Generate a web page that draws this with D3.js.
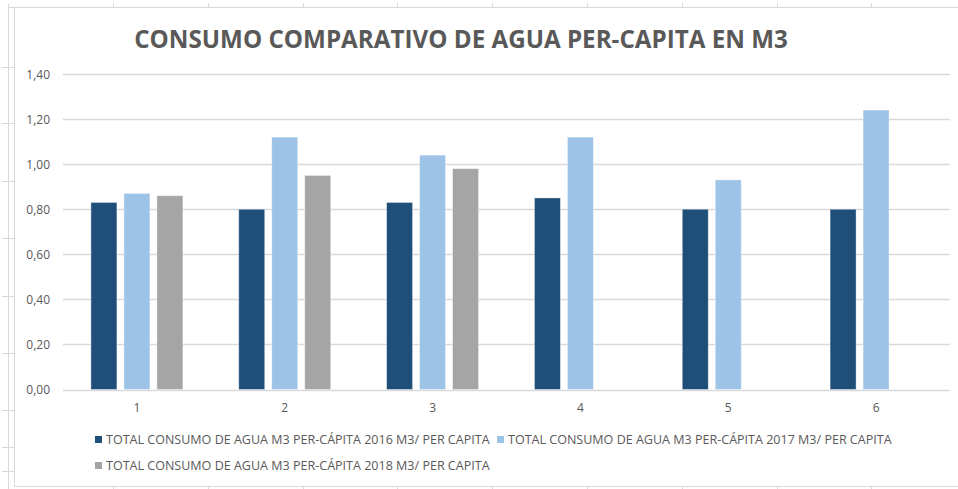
<!DOCTYPE html>
<html>
<head>
<meta charset="utf-8">
<script src="https://cdn.jsdelivr.net/npm/d3@7"></script>
<style>
  body { margin: 0; background: #fff; }
  svg { display: block; }
  text { font-family: "Open Sans", "Liberation Sans", sans-serif; fill: #595959; }
</style>
</head>
<body>
<div id="container"></div>
<script>
const title = "CONSUMO COMPARATIVO DE AGUA PER-CAPITA EN M3"
const categories = ["1", "2", "3", "4", "5", "6"]
const seriesNames = [
    "TOTAL CONSUMO DE AGUA M3 PER-CÁPITA 2016 M3/ PER CAPITA",
    "TOTAL CONSUMO DE AGUA M3 PER-CÁPITA 2017 M3/ PER CAPITA",
    "TOTAL CONSUMO DE AGUA M3 PER-CÁPITA 2018 M3/ PER CAPITA"
]
const values2016 = [0.83, 0.80, 0.83, 0.85, 0.80, 0.80]
const values2017 = [0.87, 1.12, 1.04, 1.12, 0.93, 1.24]
const values2018 = [0.86, 0.95, 0.98, null, null, null]
const yTicks = [0, 0.2, 0.4, 0.6, 0.8, 1.0, 1.2, 1.4]
const colors = ["#1F4E79", "#9DC3E6", "#A5A5A5"]

const width = 958
const height = 489
const series = [values2016, values2017, values2018]

const svg = d3.select("#container").append("svg")
    .attr("width", width)
    .attr("height", height)

// spreadsheet frame behind the chart
const frame = svg.append("g").attr("stroke", "#D9D9D9").attr("fill", "none")
frame.append("line").attr("x1", 8).attr("x2", 958).attr("y1", 7.5).attr("y2", 7.5)
frame.append("line").attr("x1", 8.5).attr("x2", 8.5).attr("y1", 4).attr("y2", 489)
frame.append("line").attr("x1", 14.5).attr("x2", 14.5).attr("y1", 8).attr("y2", 487)
frame.append("line").attr("x1", 14).attr("x2", 958).attr("y1", 486.5).attr("y2", 486.5)
d3.range(113, 958, 94.8).forEach(x => {
    frame.append("line").attr("x1", Math.round(x) + 0.5).attr("x2", Math.round(x) + 0.5).attr("y1", 3).attr("y2", 7)
    frame.append("line").attr("x1", Math.round(x) + 0.5).attr("x2", Math.round(x) + 0.5).attr("y1", 487).attr("y2", 489)
})
;[67, 123, 181, 238, 296, 353, 410, 447, 471].forEach(y => {
    frame.append("line").attr("x1", 2).attr("x2", 14).attr("y1", y + 0.5).attr("y2", y + 0.5)
})

const x0 = d3.scaleBand()
    .domain(categories)
    .range([63, 950])

const groupW = 92
const x1 = d3.scaleBand()
    .domain(d3.range(series.length))
    .range([0, groupW])
    .paddingInner(7 / 33)

const y = d3.scaleLinear()
    .domain([0, 1.4])
    .range([389.5, 74])

// gridlines
svg.append("g")
    .selectAll("line")
    .data(yTicks)
    .enter().append("line")
    .attr("x1", 63)
    .attr("x2", 950)
    .attr("y1", d => Math.round(y(d)) + 0.5)
    .attr("y2", d => Math.round(y(d)) + 0.5)
    .attr("stroke", "#D9D9D9")
    .attr("stroke-width", 1.3)

svg.append("g")
    .selectAll("text")
    .data(yTicks)
    .enter().append("text")
    .attr("x", 50)
    .attr("y", d => y(d) + 4.5)
    .attr("text-anchor", "end")
    .style("font-size", "12px")
    .text(d => d3.format(".2f")(d).replace(".", ","))

// bars
const group = svg.append("g")
    .selectAll("g")
    .data(categories)
    .enter().append("g")
    .attr("transform", d => `translate(${x0(d) + (x0.bandwidth() - groupW) / 2},0)`)

group.selectAll("rect")
    .data((d, i) => series.map((s, k) => ({ k, v: s[i] })).filter(e => e.v != null))
    .enter().append("rect")
    .attr("x", d => x1(d.k))
    .attr("width", x1.bandwidth())
    .attr("y", d => y(d.v))
    .attr("height", d => y(0) - y(d.v))
    .attr("fill", d => colors[d.k])
    .attr("stroke", "#fff")
    .attr("stroke-opacity", 0.5)
    .attr("stroke-width", 0.8)

svg.append("g")
    .selectAll("text")
    .data(categories)
    .enter().append("text")
    .attr("x", d => x0(d) + x0.bandwidth() / 2)
    .attr("y", 412)
    .attr("text-anchor", "middle")
    .style("font-size", "12px")
    .text(d => d)

// title, scaled to the reference width
const titleText = svg.append("text")
    .attr("x", 461)
    .attr("y", 48)
    .attr("text-anchor", "middle")
    .style("font-size", "22px")
    .style("font-weight", "700")
    .text(title)
const tw = titleText.node().getComputedTextLength()
titleText.style("font-size", (22 * 654 / tw) + "px")

// legend
const legendPos = [
    { x: 95, y: 440 },
    { x: 497, y: 440 },
    { x: 95, y: 466 }
]
const legend = svg.append("g")
    .selectAll("g")
    .data(seriesNames)
    .enter().append("g")
    .attr("transform", (d, i) => `translate(${legendPos[i].x},${legendPos[i].y})`)

legend.append("rect")
    .attr("x", 0)
    .attr("y", -4)
    .attr("width", 7)
    .attr("height", 7)
    .attr("fill", (d, i) => colors[i])

legend.append("text")
    .attr("x", 11)
    .attr("y", 4)
    .style("font-size", "12px")
    .text(d => d)
    .each(function () {
        const w = this.getComputedTextLength()
        d3.select(this).style("font-size", (12 * 384 / w) + "px")
    })
</script>
</body>
</html>
